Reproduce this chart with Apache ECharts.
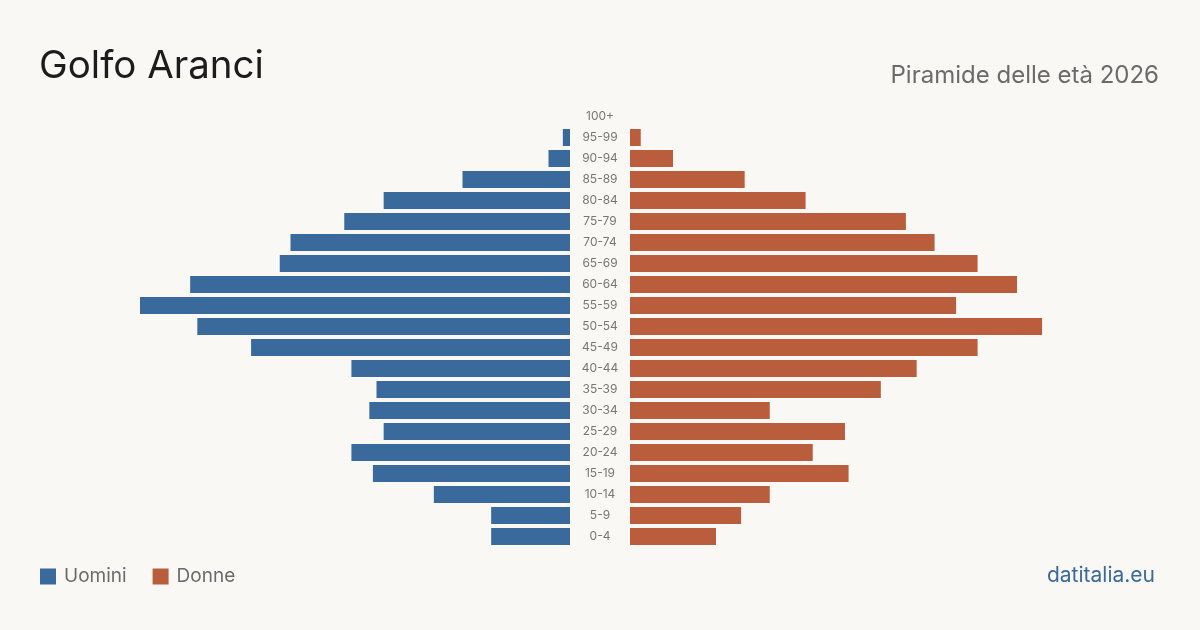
<!DOCTYPE html>
<html><head><meta charset="utf-8">
<script src="https://cdn.jsdelivr.net/npm/echarts@6/dist/echarts.min.js"></script>
<style>html,body{margin:0;padding:0;background:#f9f8f4}#c{width:1200px;height:630px}</style>
</head><body><div id="c"></div>
<script>
const ageGroups = ['100+','95-99','90-94','85-89','80-84','75-79','70-74','65-69','60-64','55-59','50-54','45-49','40-44','35-39','30-34','25-29','20-24','15-19','10-14','5-9','0-4'];
const men   = [0, 2, 6, 30, 52, 63, 78, 81, 106, 120, 104, 89, 61, 54, 56, 52, 61, 55, 38, 22, 22];
const women = [0, 3, 12, 32, 49, 77, 85, 97, 108, 91, 115, 97, 80, 70, 39, 60, 51, 61, 39, 31, 24];
const titleText = 'Golfo Aranci';
const subtitleText = 'Piramide delle età 2026';
const sourceText = 'datitalia.eu';

const BLUE = '#3a6a9b', ORANGE = '#b95d3d', FONT = 'Inter, "Noto Sans", sans-serif';
const chart = echarts.init(document.getElementById('c'), null, {renderer: 'canvas'});
chart.setOption({
  backgroundColor: '#f9f8f4',
  animation: false,
  title: [
    {text: titleText, left: 39, top: 47, padding: 0, textStyle: {fontFamily: FONT, fontSize: 38.5, fontWeight: 400, color: '#1c1c1c', letterSpacing: -0.3}},
    {text: subtitleText, right: 41, top: 64, padding: 0, textStyle: {fontFamily: FONT, fontSize: 24, fontWeight: 400, color: '#6b6b6b'}},
    {text: sourceText, right: 45, top: 565, padding: 0, textStyle: {fontFamily: FONT, fontSize: 21, fontWeight: 400, color: BLUE}}
  ],
  legend: {
    left: 40, top: 567, padding: 0, itemWidth: 16, itemHeight: 16, itemGap: 26, icon: 'rect',
    data: ['Uomini', 'Donne'],
    textStyle: {fontFamily: FONT, fontSize: 19, color: '#6b6b6b', padding: [0,0,0,3]}
  },
  grid: [
    {left: 140, width: 430, top: 106, height: 441},
    {left: 630, width: 430, top: 106, height: 441}
  ],
  xAxis: [
    {gridIndex: 0, type: 'value', min: 0, max: 120, inverse: true, show: false},
    {gridIndex: 1, type: 'value', min: 0, max: 120, show: false}
  ],
  yAxis: [
    {gridIndex: 0, type: 'category', data: ageGroups, inverse: true, position: 'right',
     axisLine: {show: false}, axisTick: {show: false}, splitLine: {show: false},
     axisLabel: {align: 'center', margin: 30, color: '#777', fontSize: 12, fontFamily: FONT, padding: [1,0,0,0]}},
    {gridIndex: 1, type: 'category', data: ageGroups, inverse: true,
     axisLine: {show: false}, axisTick: {show: false}, axisLabel: {show: false}, splitLine: {show: false}}
  ],
  series: [
    {name: 'Uomini', type: 'bar', xAxisIndex: 0, yAxisIndex: 0, data: men, barWidth: 17, itemStyle: {color: BLUE}},
    {name: 'Donne', type: 'bar', xAxisIndex: 1, yAxisIndex: 1, data: women, barWidth: 17, itemStyle: {color: ORANGE}}
  ]
});
</script></body></html>
